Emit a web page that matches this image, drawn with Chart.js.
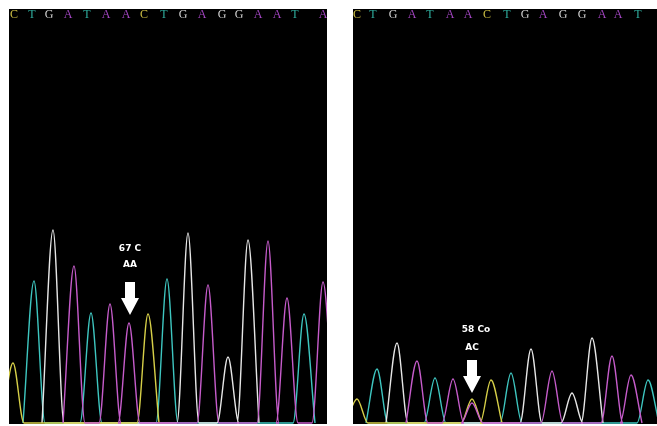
<!DOCTYPE html>
<html>
<head>
<meta charset="utf-8">
<script src="https://cdn.jsdelivr.net/npm/chart.js@4/dist/chart.umd.min.js"></script>
<style>
  html,body{margin:0;padding:0;background:#fff;width:657px;height:426px;overflow:hidden}
  .panel{position:absolute;background:#000}
  #p1{left:9px;top:9px;width:318px;height:415px}
  #p2{left:353px;top:9px;width:304px;height:415px}
</style>
</head>
<body>
<div class="panel" id="p1"><canvas id="c1"></canvas></div>
<div class="panel" id="p2"><canvas id="c2"></canvas></div>
<script>
// base calls along the top of each trace
const bases1 = ['C','T','G','A','T','A','A','C','T','G','A','G','G','A','A','T','A'];
const basePos1 = [5,23,40,59,78,97,117,135,155,174,193,213,230,249,268,286,314];
const bases2 = ['C','T','G','A','T','A','A','C','T','G','A','G','G','A','A','T'];
const basePos2 = [4,20,40,59,77,97,115,134,154,172,190,210,229,249,265,285];

// peaks per dye: [scan position, signal]
const peaksA1 = [[65,157],[101,119],[120,100],[199,138],[259,182],[278,125],[314,141]];
const peaksC1 = [[4,60],[139,109]];
const peaksG1 = [[44,193],[179,190],[219,66],[239,183]];
const peaksT1 = [[25,142],[82,110],[158,144],[295,109]];

const peaksA2 = [[64,62],[100,44],[119,20],[199,52],[259,67],[278,48]];
const peaksC2 = [[4,24],[119,24],[138,43]];
const peaksG2 = [[44,80],[178,74],[219,30],[239,85]];
const peaksT2 = [[24,54],[82,45],[158,50],[295,43]];

const dye = {A:'#c65ccb', C:'#d6cf48', G:'#e6e6e6', T:'#3ec6c0'};
const letterCol = {A:'#a546c4', C:'#cfc043', G:'#d2d2d2', T:'#2fae9e'};

function trace(peaks){
  const pts = [];
  peaks.forEach(p=>{
    pts.push({x:p[0]-11,y:0});
    pts.push({x:p[0],y:p[1]});
    pts.push({x:p[0]+11,y:0});
  });
  return pts;
}

const callPlugin = {
  id:'calls',
  afterDatasetsDraw(chart, args, opts){
    const ctx = chart.ctx, xs = chart.scales.x, ys = chart.scales.y;
    ctx.save();
    ctx.font = '12px "Liberation Serif"';
    ctx.textAlign = 'center';
    ctx.textBaseline = 'middle';
    opts.bases.forEach((b,i)=>{
      ctx.fillStyle = letterCol[b];
      ctx.fillText(b, xs.getPixelForValue(opts.pos[i]), 6);
    });
    // mutation marker
    const m = opts.mark;
    const ax = xs.getPixelForValue(m.at);
    const tip = ys.getPixelForValue(m.tip);
    ctx.fillStyle = '#fff';
    ctx.beginPath();
    ctx.moveTo(ax, tip);
    ctx.lineTo(ax-9, tip-17);
    ctx.lineTo(ax-5, tip-17);
    ctx.lineTo(ax-5, tip-33);
    ctx.lineTo(ax+5, tip-33);
    ctx.lineTo(ax+5, tip-17);
    ctx.lineTo(ax+9, tip-17);
    ctx.closePath();
    ctx.fill();
    ctx.font = 'bold 9px "DejaVu Sans"';
    ctx.fillText(m.label, xs.getPixelForValue(m.labelAt), ys.getPixelForValue(m.labelY));
    ctx.fillText(m.geno, xs.getPixelForValue(m.at), ys.getPixelForValue(m.genoY));
    ctx.restore();
  }
};

function makeChart(id, width, sets, bases, pos, mark){
  const ds = ['A','C','G','T'].map(k=>({
    label:k,
    data:trace(sets[k]),
    borderColor:dye[k],
    borderWidth:1.4,
    pointRadius:0,
    cubicInterpolationMode:'monotone',
    fill:false
  }));
  new Chart(document.getElementById(id),{
    type:'line',
    data:{datasets:ds},
    options:{
      responsive:true, maintainAspectRatio:false, animation:false,
      layout:{padding:0},
      scales:{
        x:{type:'linear',min:0,max:width,display:false},
        y:{min:-1,max:414,display:false}
      },
      plugins:{legend:{display:false},tooltip:{enabled:false},
        calls:{bases,pos,mark}}
    },
    plugins:[callPlugin]
  });
}

makeChart('c1',318,{A:peaksA1,C:peaksC1,G:peaksG1,T:peaksT1},bases1,basePos1,
  {at:121,tip:108,label:'67 C',labelAt:121,labelY:174,geno:'AA',genoY:158});
makeChart('c2',304,{A:peaksA2,C:peaksC2,G:peaksG2,T:peaksT2},bases2,basePos2,
  {at:119,tip:30,label:'58 Co',labelAt:123,labelY:93,geno:'AC',genoY:75});
</script>
</body>
</html>
